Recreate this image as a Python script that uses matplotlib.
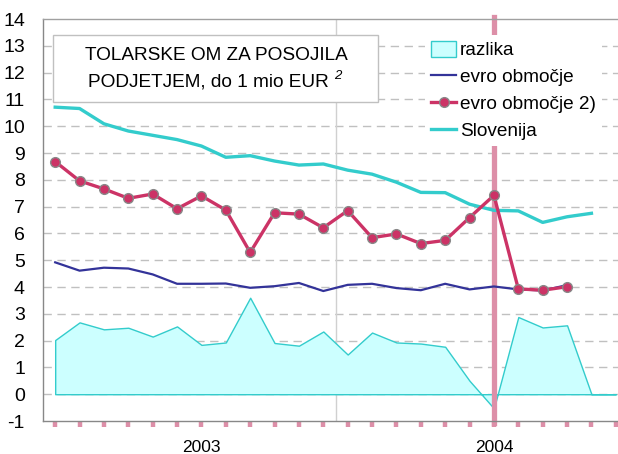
import numpy as np
import matplotlib
matplotlib.use("Agg")
import matplotlib.pyplot as plt
import matplotlib.transforms as mtransforms
from matplotlib.patches import Rectangle, Patch
from matplotlib.lines import Line2D

plt.rcParams['font.family'] = ['Liberation Sans', 'DejaVu Sans']

# ---- data (monthly, 24 periods) ----
slovenija = [10.71, 10.66, 10.09, 9.82, 9.66, 9.50, 9.26, 8.84, 8.90, 8.70, 8.55, 8.59,
             8.36, 8.21, 7.91, 7.53, 7.52, 7.09, 6.86, 6.84, 6.41, 6.62, 6.75, np.nan]
evro = [4.92, 4.61, 4.72, 4.69, 4.47, 4.12, 4.12, 4.13, 3.97, 4.03, 4.15, 3.85,
        4.08, 4.12, 3.96, 3.88, 4.12, 3.91, 4.02, 3.91, 3.87, 4.07, np.nan, np.nan]
evro2 = [8.68, 7.96, 7.66, 7.31, 7.47, 6.92, 7.40, 6.87, 5.29, 6.77, 6.72, 6.21,
         6.85, 5.84, 5.98, 5.62, 5.74, 6.59, 7.42, 3.93, 3.88, 4.01, np.nan, np.nan]
razlika = [2.02, 2.68, 2.42, 2.48, 2.15, 2.53, 1.84, 1.93, 3.60, 1.91, 1.81, 2.34,
           1.48, 2.30, 1.93, 1.89, 1.77, 0.50, -0.53, 2.88, 2.49, 2.57, 0.0, 0.0]
year_labels = ["2003", "2004"]
year_label_pos = [6, 18]
year_breaks = [11.5]
marker_idx = 18
yticks = list(range(-1, 15))

x = np.arange(len(razlika))

W, H = 618, 454
fig = plt.figure(figsize=(W / 100, H / 100), dpi=100)
fig.patch.set_facecolor('white')
ax = fig.add_axes([43 / W, 33 / H, 585 / W, 402 / H])

ax.set_xlim(-0.5, len(x) - 0.5)
ax.set_ylim(-1, 14)

# gridlines
for yv in range(0, 14):
    ax.axhline(yv, color='#c0c0c0', lw=1.0, ls=(0, (6, 4)), zorder=0)
for xb in year_breaks:
    ax.axvline(xb, color='#d0d0d0', lw=1.0, zorder=0)

# area
ax.fill_between(x, 0, razlika, facecolor='#ccffff', edgecolor='#33cccc', lw=1.0, zorder=1)

# lines
ax.plot(x, slovenija, color='#33cccc', lw=2.4, zorder=3)
ax.plot(x, evro, color='#333399', lw=1.6, zorder=3)
ax.plot(x, evro2, color='#cc3366', lw=2.4, marker='o', ms=7, mfc='#cc3366',
        mec='#888888', mew=1.0, zorder=4)

# vertical marker line
ax.axvline(marker_idx, ymin=-0.005, ymax=1.005, color='#dd8fa8', lw=3.8, zorder=2, clip_on=False)

# spines
for s in ['left', 'bottom']:
    ax.spines[s].set_color('#888888')
    ax.spines[s].set_linewidth(1.0)
ax.spines['top'].set_color('#a0a0a0')
ax.spines['top'].set_linewidth(1.0)
ax.spines['right'].set_visible(False)

ax.set_yticks(yticks)
ax.set_yticklabels([str(v) for v in yticks], fontsize=14)
ax.tick_params(axis='y', length=0, pad=13)
ax.set_xticks(x)
ax.set_xticklabels([])
ax.tick_params(axis='x', length=4.5, width=3.2, color='#dd8fa8', direction='out')

ytrans = mtransforms.blended_transform_factory(ax.transData, fig.transFigure)
for lab, pos in zip(year_labels, year_label_pos):
    ax.text(pos, 1 - 447 / H, lab, transform=ytrans, fontsize=12.5,
            ha='center', va='center', clip_on=False)

# title box
box = Rectangle((53 / W, 1 - 102 / H), (378 - 53) / W, (102 - 35) / H,
                transform=fig.transFigure, facecolor='white', edgecolor='#c0c0c0',
                lw=1.0, zorder=5)
fig.patches.append(box)
fig.text(216 / W, 1 - 56 / H, "TOLARSKE OM ZA POSOJILA", fontsize=13.7,
         ha='center', va='center', zorder=6)
fig.text(208 / W, 1 - 82 / H, "PODJETJEM, do 1 mio EUR", fontsize=13.7,
         ha='center', va='center', zorder=6)
fig.text(334 / W, 1 - 76 / H, "2", fontsize=9.5, style='italic',
         ha='left', va='center', zorder=6)

# legend
handles = [
    Patch(facecolor='#ccffff', edgecolor='#33cccc', lw=1.0),
    Line2D([], [], color='#333399', lw=1.6),
    Line2D([], [], color='#cc3366', lw=2.4, marker='o', ms=7, mfc='#cc3366', mec='#888888'),
    Line2D([], [], color='#33cccc', lw=2.4),
]
labels = ["razlika", "evro območje", "evro območje 2)", "Slovenija"]
leg = fig.legend(handles, labels, loc='upper left', bbox_to_anchor=(425 / W, 1 - 35 / H),
                 frameon=True, fontsize=13.7, handlelength=1.35, handleheight=0.9,
                 handletextpad=0.2, labelspacing=0.45, borderpad=0.3, borderaxespad=0)
leg.get_frame().set_facecolor('white')
leg.get_frame().set_edgecolor('none')
leg.get_frame().set_alpha(1.0)
leg.set_zorder(10)

fig.savefig('out.png', dpi=100)
